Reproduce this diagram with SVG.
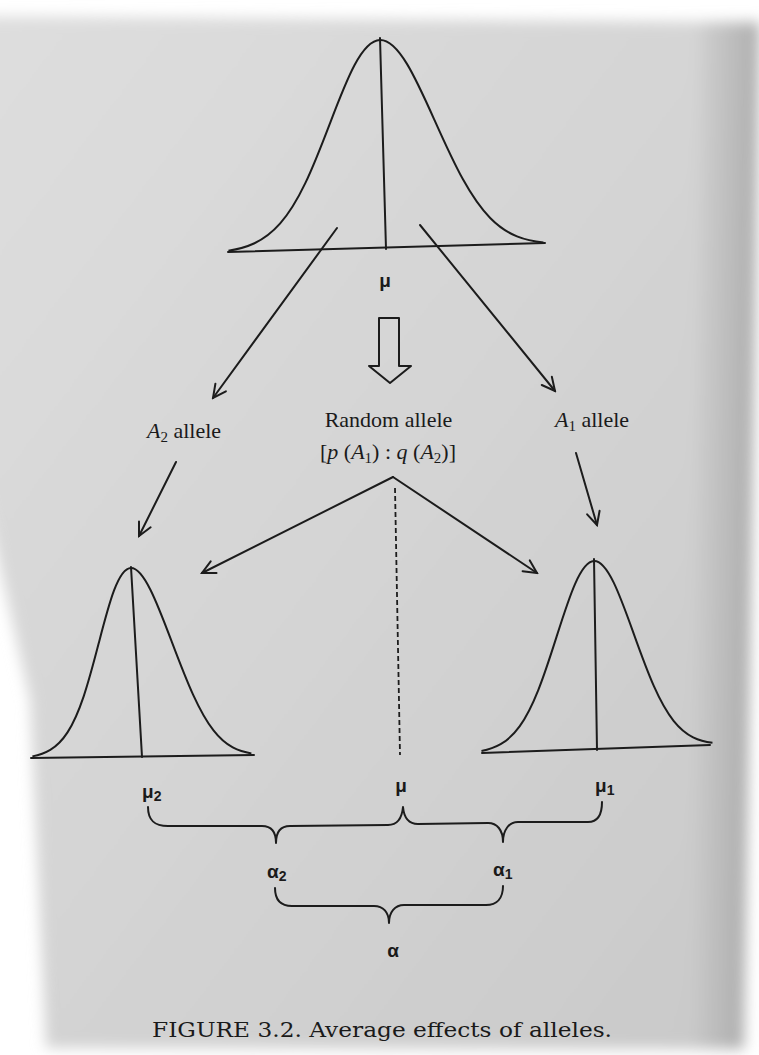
<svg xmlns="http://www.w3.org/2000/svg" width="759" height="1055" viewBox="0 0 759 1055">
  <defs>
    <style>
      .ln { fill: none; stroke: #1c1c1c; stroke-width: 2; stroke-linecap: round; stroke-linejoin: round; }
      .bell { fill: none; stroke: #1c1c1c; stroke-width: 2; vector-effect: non-scaling-stroke; }
      .dash { fill: none; stroke: #1c1c1c; stroke-width: 1.8; stroke-dasharray: 5 3; }
      .tx { font-family: "Liberation Serif", "Times New Roman", serif; font-size: 22px; fill: #1a1a1a; }
      .gk { font-family: "Liberation Sans", Arial, sans-serif; font-size: 19px; font-weight: bold; fill: #1a1a1a; }
      .cap { font-family: "DejaVu Serif", "Liberation Serif", serif; font-size: 21px; fill: #1a1a1a; }
      .it { font-style: italic; }
    </style>
    <linearGradient id="paper" x1="0" y1="0" x2="1" y2="1">
      <stop offset="0" stop-color="#dedede"/>
      <stop offset="0.5" stop-color="#d4d4d4"/>
      <stop offset="1" stop-color="#c9c9c9"/>
    </linearGradient>
    <linearGradient id="rshade" x1="0" y1="0" x2="1" y2="0">
      <stop offset="0" stop-color="#000" stop-opacity="0"/>
      <stop offset="1" stop-color="#000" stop-opacity="0.18"/>
    </linearGradient>
    <filter id="soft" x="-5%" y="-5%" width="110%" height="110%">
      <feGaussianBlur stdDeviation="7"/>
    </filter>
    <marker id="ah" markerUnits="userSpaceOnUse" markerWidth="18" markerHeight="18" viewBox="0 0 18 18" refX="16" refY="9" orient="auto">
      <path d="M3,2.5 L16,9 L3,15.5" fill="none" stroke="#1c1c1c" stroke-width="2" stroke-linecap="round" stroke-linejoin="miter"/>
    </marker>
    <path id="bellpath" d="M-3,0.0111 C-2.8333,0.0167 -2.6667,0.0256 -2.5,0.0439 C-2.3333,0.0622 -2.1667,0.0902 -2,0.1353 C-1.8333,0.1804 -1.6667,0.2435 -1.5,0.3247 C-1.3333,0.4059 -1.1667,0.5054 -1,0.6065 C-0.8333,0.7076 -0.6667,0.809 -0.5,0.8825 C-0.3333,0.956 -0.1667,1 0,1 C0.1667,1 0.3333,0.956 0.5,0.8825 C0.6667,0.809 0.8333,0.7076 1,0.6065 C1.1667,0.5054 1.3333,0.4059 1.5,0.3247 C1.6667,0.2435 1.8333,0.1804 2,0.1353 C2.1667,0.0902 2.3333,0.0622 2.5,0.0439 C2.6667,0.0256 2.8333,0.0167 3,0.0111"/>
  </defs>

  <!-- photographed page background -->
  <rect width="759" height="1055" fill="#ffffff"/>
  <g filter="url(#soft)">
    <polygon points="-20,16 760,22 744,1049 46,1048 30,700 -20,480" fill="url(#paper)"/>
    <polygon points="700,22 760,22 744,1049 690,1049" fill="url(#rshade)"/>
  </g>

  <!-- top distribution -->
  <g id="node-top-curve">
    <path class="bell" d="M-3,0.0111 C-2.8333,0.0167 -2.6667,0.0256 -2.5,0.0439 C-2.3333,0.0622 -2.1667,0.0902 -2,0.1353 C-1.8333,0.1804 -1.6667,0.2435 -1.5,0.3247 C-1.3333,0.4059 -1.1667,0.5054 -1,0.6065 C-0.8333,0.7076 -0.6667,0.809 -0.5,0.8825 C-0.3333,0.956 -0.1667,1 0,1 C0.1667,1 0.3333,0.956 0.5,0.8825 C0.6667,0.809 0.8333,0.7076 1,0.6065 C1.1667,0.5054 1.3333,0.4059 1.5,0.3247 C1.6667,0.2435 1.8333,0.1804 2,0.1353 C2.1667,0.0902 2.3333,0.0622 2.5,0.0439 C2.6667,0.0256 2.8333,0.0167 3,0.0111" transform="matrix(52.5 -1.36 -6 -209 386 249)"/>
    <line class="ln" x1="228" y1="252" x2="545" y2="243"/>
    <line class="ln" x1="380" y1="38" x2="386" y2="249"/>
    <text class="gk" x="385" y="287" text-anchor="middle">μ</text>
  </g>

  <!-- hollow block arrow -->
  <g id="node-block-arrow">
    <polygon class="ln" points="379,318 399,318 399,366 411,366 390,383 369,366 379,366"/>
  </g>

  <!-- labels -->
  <g id="node-a2-allele">
    <text class="tx" x="147" y="438"><tspan class="it">A</tspan><tspan font-size="15" dy="4">2</tspan><tspan dy="-4"> allele</tspan></text>
  </g>
  <g id="node-random-allele">
    <text class="tx" x="388.5" y="427" text-anchor="middle">Random allele</text>
    <text class="tx" x="320" y="459">[<tspan class="it">p</tspan> (<tspan class="it">A</tspan><tspan font-size="15" dy="4">1</tspan><tspan dy="-4">) : </tspan><tspan class="it">q</tspan> (<tspan class="it">A</tspan><tspan font-size="15" dy="4">2</tspan><tspan dy="-4">)]</tspan></text>
  </g>
  <g id="node-a1-allele">
    <text class="tx" x="555" y="427"><tspan class="it">A</tspan><tspan font-size="15" dy="4">1</tspan><tspan dy="-4"> allele</tspan></text>
  </g>

  <!-- left distribution (A2) -->
  <g id="node-left-curve">
    <path class="bell" d="M-3,0.0111 C-2.8333,0.0167 -2.6667,0.0256 -2.5,0.0439 C-2.3333,0.0622 -2.1667,0.0902 -2,0.1353 C-1.8333,0.1804 -1.6667,0.2435 -1.5,0.3247 C-1.3333,0.4059 -1.1667,0.5054 -1,0.6065 C-0.8333,0.7076 -0.6667,0.809 -0.5,0.8825 C-0.3333,0.956 -0.1667,1 0,1 C0.1667,1 0.3333,0.956 0.5,0.8825 C0.6667,0.809 0.8333,0.7076 1,0.6065 C1.1667,0.5054 1.3333,0.4059 1.5,0.3247 C1.6667,0.2435 1.8333,0.1804 2,0.1353 C2.1667,0.0902 2.3333,0.0622 2.5,0.0439 C2.6667,0.0256 2.8333,0.0167 3,0.0111" transform="matrix(36.5 -0.49 -11 -189 142 757)"/>
    <line class="ln" x1="31" y1="758" x2="254" y2="755"/>
    <line class="ln" x1="131" y1="567" x2="142" y2="757"/>
    <text class="gk" x="142" y="798">μ<tspan font-size="14" dy="3">2</tspan></text>
  </g>

  <!-- right distribution (A1) -->
  <g id="node-right-curve">
    <path class="bell" d="M-3,0.0111 C-2.8333,0.0167 -2.6667,0.0256 -2.5,0.0439 C-2.3333,0.0622 -2.1667,0.0902 -2,0.1353 C-1.8333,0.1804 -1.6667,0.2435 -1.5,0.3247 C-1.3333,0.4059 -1.1667,0.5054 -1,0.6065 C-0.8333,0.7076 -0.6667,0.809 -0.5,0.8825 C-0.3333,0.956 -0.1667,1 0,1 C0.1667,1 0.3333,0.956 0.5,0.8825 C0.6667,0.809 0.8333,0.7076 1,0.6065 C1.1667,0.5054 1.3333,0.4059 1.5,0.3247 C1.6667,0.2435 1.8333,0.1804 2,0.1353 C2.1667,0.0902 2.3333,0.0622 2.5,0.0439 C2.6667,0.0256 2.8333,0.0167 3,0.0111" transform="matrix(38.5 -1.39 -3 -188 597 749)"/>
    <line class="ln" x1="482" y1="753" x2="710" y2="745"/>
    <line class="ln" x1="594" y1="559" x2="597" y2="750"/>
    <text class="gk" x="595" y="792">μ<tspan font-size="14" dy="3">1</tspan></text>
  </g>

  <!-- middle mean -->
  <g id="node-mean">
    <text class="gk" x="401" y="792" text-anchor="middle">μ</text>
  </g>

  <!-- braces -->
  <g id="node-braces">
    <path class="ln" d="M148,807 C148,820 154,826 168,826 L262,826 C271,826 276,832 276,843 C276,832 281,826 290,826 L388,825 C397,825 402,818 403,807 C404,818 409,824 418,824 L488,823 C497,823 503,830 503,842 C503,830 509,822 518,822 L588,822 C598,822 602,814 602,802"/>
    <text class="gk" x="267" y="878">α<tspan font-size="14" dy="3">2</tspan></text>
    <text class="gk" x="493" y="876">α<tspan font-size="14" dy="3">1</tspan></text>
    <path class="ln" d="M275,888 C275,900 281,906 292,906 L374,906 C383,906 389,912 389,923 C389,912 395,905 404,905 L486,905 C497,905 503,898 503,886"/>
    <text class="gk" x="393" y="957" text-anchor="middle">α</text>
  </g>

  <!-- connectors -->
  <g id="connectors">
    <line class="ln" x1="337" y1="228" x2="213" y2="398" marker-end="url(#ah)"/>
    <line class="ln" x1="420" y1="225" x2="555" y2="391" marker-end="url(#ah)"/>
    <line class="ln" x1="176" y1="462" x2="139" y2="536" marker-end="url(#ah)"/>
    <line class="ln" x1="576" y1="453" x2="597" y2="525" marker-end="url(#ah)"/>
    <line class="ln" x1="393" y1="477" x2="202" y2="573" marker-end="url(#ah)"/>
    <line class="ln" x1="393" y1="477" x2="537" y2="573" marker-end="url(#ah)"/>
    <line class="dash" x1="395" y1="488" x2="400" y2="755"/>
  </g>

  <!-- caption -->
  <g id="caption">
    <text class="cap" x="152" y="1037" textLength="460" lengthAdjust="spacingAndGlyphs">FIGURE 3.2. Average effects of alleles.</text>
  </g>
</svg>
